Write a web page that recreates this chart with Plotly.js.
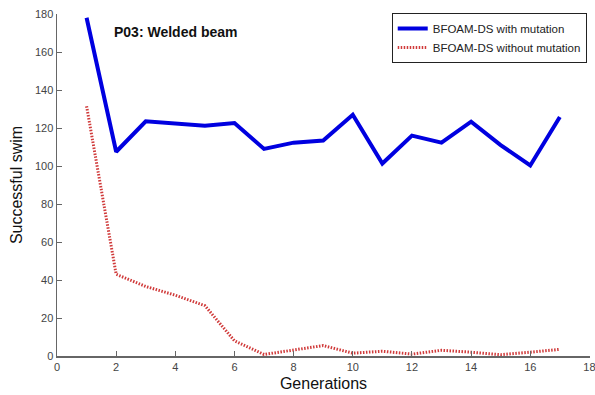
<!DOCTYPE html>
<html>
<head>
<meta charset="utf-8">
<script src="https://cdn.plot.ly/plotly-3.0.1.min.js"></script>
<style>html,body{margin:0;padding:0;background:#fff;}#chart{width:595px;height:395px;}</style>
</head>
<body>
<div id="chart"></div>
<script>
var generations = [1,2,3,4,5,6,7,8,9,10,11,12,13,14,15,16,17];
var withMutation = [178,107.5,123.5,122.3,121.2,122.6,109,112.3,113.4,127,101.3,116,112.3,123.3,111,100.3,125.8];
var withoutMutation = [131.5,43,36.6,32,26.5,8,0.8,3.3,5.5,1.5,2.5,1,3,2,0.7,2,3.5];
var xTicks = [0,2,4,6,8,10,12,14,16,18];
var yTicks = [0,20,40,60,80,100,120,140,160,180];

var traces = [
  {x: generations, y: withMutation, type: 'scatter', mode: 'lines', name: 'BFOAM-DS with mutation',
   line: {color: '#0000e0', width: 4}},
  {x: generations, y: withoutMutation, type: 'scatter', mode: 'lines', name: 'BFOAM-DS without mutation',
   line: {color: '#d03a3a', width: 3, dash: '1.5px,1.5px'}}
];

var layout = {
  width: 595, height: 395,
  margin: {l: 57, r: 5, t: 14, b: 39},
  paper_bgcolor: '#fff', plot_bgcolor: '#fff',
  font: {family: 'Liberation Sans, Arial, sans-serif', size: 11, color: '#333'},
  showlegend: true,
  legend: {x: 0.628, y: 1.003, xanchor: 'left', yanchor: 'top', bgcolor: '#fff',
           bordercolor: '#222', borderwidth: 1, font: {size: 11.5, color: '#222'},
           tracegroupgap: 0},
  xaxis: {range: [0, 18.02], tickvals: xTicks, ticktext: xTicks.map(String), showgrid: false, zeroline: false,
          showline: true, linecolor: '#666', linewidth: 1.5, ticks: 'inside', ticklen: 5, tickcolor: '#666',
          tickfont: {size: 11, color: '#444'}, ticklabeloverflow: 'allow',
          title: {text: 'Generations', font: {size: 16, color: '#111'}, standoff: 6}},
  yaxis: {range: [0, 180], tickvals: yTicks, ticktext: yTicks.map(String), showgrid: false, zeroline: false,
          showline: true, linecolor: '#666', linewidth: 1.5, ticks: 'inside', ticklen: 5, tickcolor: '#666',
          tickfont: {size: 11, color: '#444'},
          title: {text: 'Successful swim', font: {size: 16, color: '#111'}, standoff: 8}},
  annotations: [
    {text: '<b>P03: Welded beam</b>', xref: 'paper', yref: 'paper', x: (112 - 57) / 533, y: (356 - 32) / 342,
     xanchor: 'left', yanchor: 'middle', showarrow: false, font: {size: 14, color: '#111'}}
  ]
};

Plotly.newPlot('chart', traces, layout, {displayModeBar: false, staticPlot: true});
</script>
</body>
</html>
